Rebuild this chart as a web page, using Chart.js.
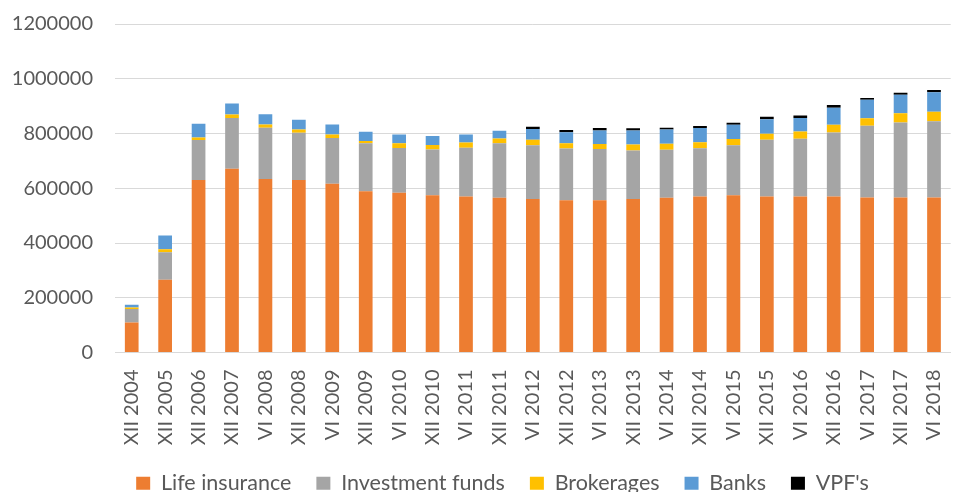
<!DOCTYPE html>
<html>
<head>
<meta charset="utf-8">
<script src="https://cdn.jsdelivr.net/npm/chart.js@4.4.0/dist/chart.umd.min.js"></script>
<style>
  html, body { margin: 0; padding: 0; background: #fff; overflow: hidden; }
  #wrap { position: absolute; left: 0; top: 0; width: 975px; height: 504px; }
</style>
</head>
<body>
<div id="wrap"><canvas id="chart" width="975" height="504"></canvas></div>
<script>
// periods (half-years)
const periods = ['XII 2004', 'XII 2005', 'XII 2006', 'XII 2007', 'VI 2008', 'XII 2008', 'VI 2009', 'XII 2009',
    'VI 2010', 'XII 2010', 'VI 2011', 'XII 2011', 'VI 2012', 'XII 2012', 'VI 2013', 'XII 2013', 'VI 2014',
    'XII 2014', 'VI 2015', 'XII 2015', 'VI 2016', 'XII 2016', 'VI 2017', 'XII 2017', 'VI 2018'];

// values
const lifeInsurance = [110000, 266000, 630000, 671000, 634000, 630000, 616000, 589000, 584000, 574000, 570000,
    565000, 561000, 556000, 556000, 561000, 565000, 570000, 574000, 570000, 570000, 570000, 566000, 566000, 566000];
const investmentFunds = [49000, 100000, 146000, 186000, 187000, 173000, 168000, 175000, 163000, 168000, 178000,
    199000, 196000, 189000, 187000, 177000, 176000, 176000, 183000, 207000, 211000, 234000, 262000, 274000, 279000];
const brokerages = [5000, 11000, 9000, 12000, 12000, 12000, 12000, 9000, 17000, 16000, 19000,
    18000, 20000, 19000, 19000, 22000, 22000, 22000, 23000, 22000, 26000, 28000, 28000, 34000, 34000];
const banks = [10000, 50000, 51000, 41000, 37000, 35000, 37000, 33000, 32000, 33000, 29000,
    28000, 39000, 41000, 49000, 51000, 52000, 52000, 52000, 53000, 50000, 62000, 67000, 68000, 72000];
const vpfs = [0, 0, 0, 0, 0, 0, 0, 0, 0, 0, 0,
    0, 9000, 8000, 9000, 8000, 6000, 7000, 7000, 9000, 9000, 10000, 7000, 7000, 8000];

const yTicks = [0, 200000, 400000, 600000, 800000, 1000000, 1200000];

const FONT = 'Lato, "Open Sans", sans-serif';
const TEXT = '#595959';

const mk = (label, data, color) => ({
    label: label,
    data: data,
    backgroundColor: color,
    borderWidth: 0,
    barPercentage: 0.41,
    categoryPercentage: 1.0
});

// the legend sits a bit right of the canvas centre in the original
const legendShift = {
    id: 'legendShift',
    afterLayout(chart) {
        if (chart.legend) {
            chart.legend.left += 15;
            chart.legend.right += 15;
        }
    }
};

new Chart(document.getElementById('chart'), {
    type: 'bar',
    data: {
        labels: periods,
        datasets: [
            mk('Life insurance', lifeInsurance, '#ED7D31'),
            mk('Investment funds', investmentFunds, '#A5A5A5'),
            mk('Brokerages', brokerages, '#FFC000'),
            mk('Banks', banks, '#5B9BD5'),
            mk("VPF's", vpfs, '#000000')
        ]
    },
    plugins: [legendShift],
    options: {
        responsive: false,
        animation: false,
        layout: { padding: { top: 24, right: 0, left: 0, bottom: 0 } },
        plugins: {
            tooltip: { enabled: false },
            legend: {
                position: 'bottom',
                labels: {
                    font: { family: FONT, size: 21.5 },
                    color: TEXT,
                    boxWidth: 14,
                    boxHeight: 13,
                    padding: 25
                }
            }
        },
        scales: {
            x: {
                stacked: true,
                grid: { display: false, drawTicks: false },
                border: { display: true, color: '#d9d9d9', width: 1 },
                ticks: {
                    minRotation: 90,
                    maxRotation: 90,
                    autoSkip: false,
                    padding: 17,
                    color: TEXT,
                    font: { family: FONT, size: 20 }
                },
                afterFit: (scale) => { scale.height = 95; }
            },
            y: {
                stacked: true,
                min: 0,
                max: 1200000,
                afterBuildTicks: (scale) => { scale.ticks = yTicks.map(v => ({ value: v })); },
                grid: { color: '#d9d9d9', lineWidth: 1, drawTicks: false },
                border: { display: false },
                ticks: {
                    padding: 22,
                    color: TEXT,
                    font: { family: FONT, size: 20 },
                    callback: (v) => String(v)
                },
                afterFit: (scale) => {
                    scale.width = 115;
                    scale.paddingTop = 0;
                    scale.paddingBottom = 0;
                }
            }
        }
    }
});
</script>
</body>
</html>
